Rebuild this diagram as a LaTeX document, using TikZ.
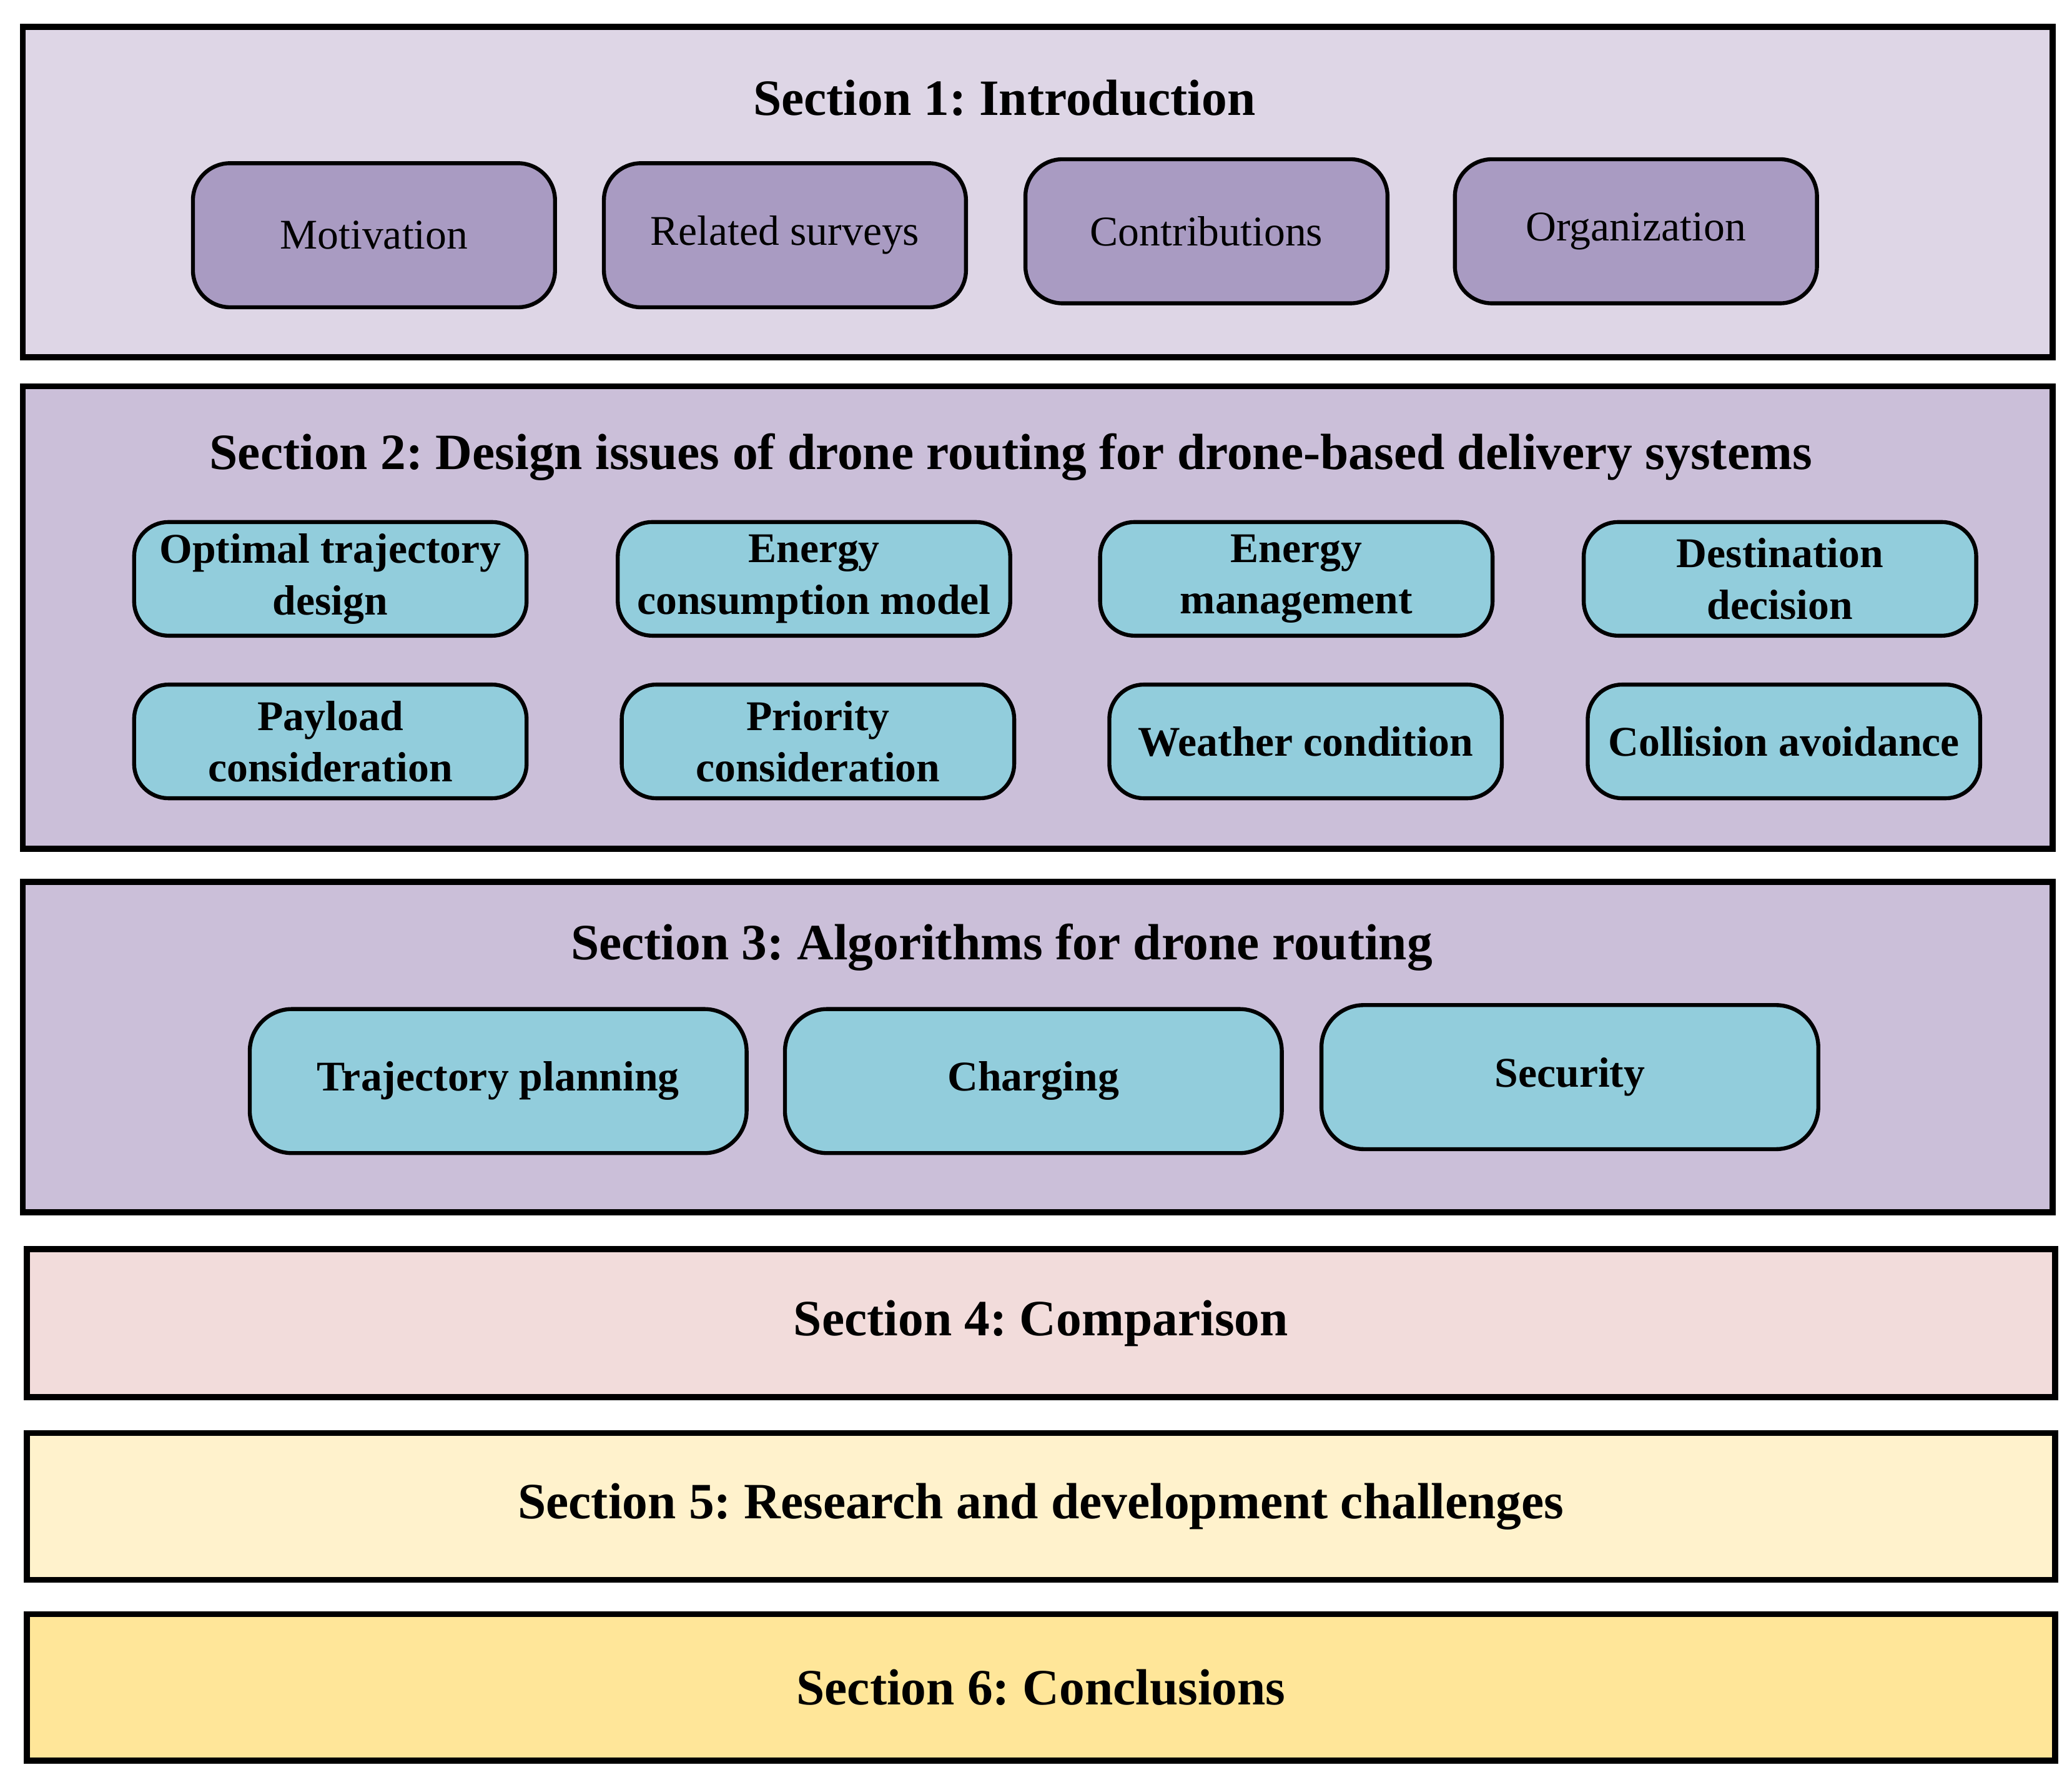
\documentclass[tikz,border=0pt]{standalone}
\usepackage{fontspec}
\setmainfont{Liberation Serif}
\frenchspacing
\usetikzlibrary{positioning}
\definecolor{secA}{HTML}{DED6E6}
\definecolor{secB}{HTML}{CBBFD9}
\definecolor{secD}{HTML}{F2DCDB}
\definecolor{secE}{HTML}{FFF2CC}
\definecolor{secF}{HTML}{FFE699}
\definecolor{purp}{HTML}{A99BC2}
\definecolor{cyan}{HTML}{92CDDC}
\tikzset{
  sec/.style={draw,line width=4.5pt,anchor=north west,inner sep=0pt},
  ttl/.style={font=\fontsize{38.5}{44}\selectfont\bfseries},
  pbox/.style={draw,line width=3pt,rounded corners=28pt,fill=purp,
    minimum width=274pt,minimum height=109pt,font=\fontsize{32}{37}\selectfont},
  cbox/.style={draw,line width=3pt,rounded corners=26pt,fill=cyan,
    minimum width=297pt,minimum height=86pt,align=center,inner sep=0pt,
    font=\fontsize{32}{39}\selectfont\bfseries},
  bbox/.style={cbox,minimum width=376pt,minimum height=109pt,rounded corners=32pt}
}
\begin{document}
\begin{tikzpicture}[x=1pt,y=-1pt]
\useasboundingbox (0,0) rectangle (1568,1343);
% outer sections
\node[sec,fill=secA,minimum width=1536pt,minimum height=250pt] (s1) at (15,18) {};
\node[sec,fill=secB,minimum width=1536pt,minimum height=350pt] (s2) at (15,290) {};
\node[sec,fill=secB,minimum width=1536pt,minimum height=250pt] (s3) at (15,665) {};
\node[sec,fill=secD,minimum width=1535pt,minimum height=112pt] (s4) at (18,943) {};
\node[sec,fill=secE,minimum width=1535pt,minimum height=111pt] (s5) at (18,1082) {};
\node[sec,fill=secF,minimum width=1535pt,minimum height=111pt] (s6) at (18,1219) {};
% titles
\node[ttl] (t1) at (760,74) {Section 1: Introduction};
\node[ttl] (t2) at (765,346) {Section 2: Design issues of drone routing for drone-based delivery systems};
\node[ttl] (t3) at (758,717) {Section 3: Algorithms for drone routing};
\node[ttl] at (s4.center) {Section 4: Comparison};
\node[ttl] at (s5.center) {Section 5: Research and development challenges};
\node[ttl] at (s6.center) {Section 6: Conclusions};
% section 1
\node[pbox] (mot) at (283,178) {Motivation};
\node[pbox] (rel) at (594,178) {Related surveys};
\node[pbox] (con) at (913,175) {Contributions};
\node[pbox] (org) at (1238,175) {Organization};
% section 2
\node[cbox] (otd) at (250,438) {Optimal trajectory\\design};
\node[cbox] (ecm) at (616,438) {Energy\\consumption model};
\node[cbox] (emg) at (981,438) {Energy\\management};
\node[cbox] (dst) at (1347,438) {Destination\\decision};
\node[cbox] (pay) at (250,561) {Payload\\consideration};
\node[cbox] (pri) at (619,561) {Priority\\consideration};
\node[cbox] (wea) at (988,561) {Weather condition};
\node[cbox] (col) at (1350,561) {Collision avoidance};
% section 3
\node[bbox] (trj) at (377,818) {Trajectory planning};
\node[bbox] (chg) at (782,818) {Charging};
\node[bbox] (scr) at (1188,815) {Security};
\end{tikzpicture}
\end{document}
